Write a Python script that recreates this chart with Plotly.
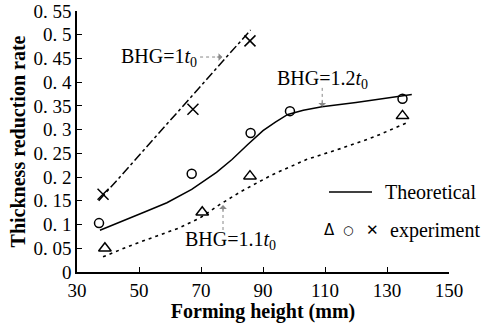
import plotly.graph_objects as go

# Theoretical curves
th1_x = [37, 86]
th1_y = [0.15, 0.51]
th12_x = [37.4, 45, 52, 59, 67, 75, 80, 85, 90, 94, 98, 103, 109, 120, 131, 138]
th12_y = [0.088, 0.109, 0.127, 0.146, 0.174, 0.21, 0.237, 0.268, 0.298, 0.316, 0.332, 0.341, 0.348, 0.357, 0.367, 0.374]
th11_x = [38.4, 47, 55.8, 63, 69.7, 76, 83, 93, 104, 115, 126, 137]
th11_y = [0.032, 0.055, 0.076, 0.093, 0.114, 0.142, 0.17, 0.205, 0.237, 0.26, 0.285, 0.316]

# Experiments
cross_x = [38.4, 67.4, 85.8]
cross_y = [0.164, 0.343, 0.487]
circ_x = [37.1, 67, 86, 98.7, 135]
circ_y = [0.103, 0.207, 0.293, 0.339, 0.365]
tri_x = [39, 70.4, 85.8, 135]
tri_y = [0.05, 0.126, 0.202, 0.329]

x_ticks = [30, 50, 70, 90, 110, 130, 150]
y_ticks = [0, 0.05, 0.1, 0.15, 0.2, 0.25, 0.3, 0.35, 0.4, 0.45, 0.5, 0.55]
y_labels = ["0", "0.\u00a005", "0.\u00a01", "0.\u00a015", "0.\u00a02", "0.\u00a025", "0.\u00a03",
            "0.\u00a035", "0.\u00a04", "0.\u00a045", "0.\u00a05", "0.\u00a055"]

FONT = "Liberation Serif, Times New Roman, serif"
L, R, T, B = 77, 35, 11, 51
PW, PH = 484 - L - R, 323 - T - B

def px(xp):
    return (xp - L) / PW

def py(yp):
    return (323 - B - yp) / PH

fig = go.Figure()
fig.add_trace(go.Scatter(x=th1_x, y=th1_y, mode="lines", line=dict(color="black", width=1.5, dash="dashdot")))
fig.add_trace(go.Scatter(x=th12_x, y=th12_y, mode="lines", line=dict(color="black", width=1.5)))
fig.add_trace(go.Scatter(x=th11_x, y=th11_y, mode="lines", line=dict(color="black", width=1.6, dash="3px,4px")))
fig.add_trace(go.Scatter(x=cross_x, y=cross_y, mode="markers",
                         marker=dict(symbol="x-thin-open", size=11, color="black", line=dict(color="black", width=1.5))))
fig.add_trace(go.Scatter(x=circ_x, y=circ_y, mode="markers",
                         marker=dict(symbol="circle-open", size=9, color="black", line=dict(color="black", width=1.5))))
fig.add_trace(go.Scatter(x=tri_x, y=tri_y, mode="markers",
                         marker=dict(symbol="triangle-up-open", size=11, color="black", line=dict(color="black", width=1.5))))

# Legend line
fig.add_shape(type="line", xref="paper", yref="paper", x0=px(329), x1=px(372),
              y0=py(192), y1=py(192), line=dict(color="black", width=1.5))

# dotted arrow shafts
GRAY = "#888"
fig.add_shape(type="line", x0=69.7, x1=76.0, y0=0.453, y1=0.453, line=dict(color=GRAY, width=1, dash="dot"))
fig.add_shape(type="line", x0=109.1, x1=109.1, y0=0.388, y1=0.355, line=dict(color=GRAY, width=1, dash="dot"))
fig.add_shape(type="line", x0=77.1, x1=77.1, y0=0.0885, y1=0.133, line=dict(color=GRAY, width=1, dash="dot"))

TF = dict(family=FONT, size=20, color="black")
ann = []
ann.append(dict(xref="paper", yref="paper", x=px(383), y=py(192), text="Theoretical",
                showarrow=False, xanchor="left", yanchor="middle", font=TF))
ann.append(dict(xref="paper", yref="paper", x=px(329), y=py(230), text="\u0394",
                showarrow=False, xanchor="center", yanchor="middle",
                font=dict(family="DejaVu Sans", size=15, color="black")))
ann.append(dict(xref="paper", yref="paper", x=px(348), y=py(230), text="\u25CB",
                showarrow=False, xanchor="center", yanchor="middle",
                font=dict(family="DejaVu Sans", size=12, color="black")))
ann.append(dict(xref="paper", yref="paper", x=px(372), y=py(230), text="\u2715",
                showarrow=False, xanchor="center", yanchor="middle",
                font=dict(family="DejaVu Sans", size=15, color="black")))
ann.append(dict(xref="paper", yref="paper", x=px(388), y=py(230), text="experiment",
                showarrow=False, xanchor="left", yanchor="middle", font=TF))
# arrowheads
ann.append(dict(x=76.9, y=0.453, ax=-7, ay=0, text="", showarrow=True, arrowhead=1, arrowsize=1.3,
                arrowwidth=1, arrowcolor=GRAY))
ann.append(dict(x=109.1, y=0.348, ax=0, ay=-7, text="", showarrow=True, arrowhead=1, arrowsize=1.3,
                arrowwidth=1, arrowcolor=GRAY))
ann.append(dict(x=77.1, y=0.141, ax=0, ay=7, text="", showarrow=True, arrowhead=1, arrowsize=1.3,
                arrowwidth=1, arrowcolor=GRAY))
# labels
ann.append(dict(x=69.5, y=0.453, text="BHG=1<i>t</i><sub>0</sub>", showarrow=False,
                xanchor="right", yanchor="middle", font=TF))
ann.append(dict(x=109.1, y=0.405, text="BHG=1.2<i>t</i><sub>0</sub>", showarrow=False,
                xanchor="center", yanchor="middle", font=TF))
ann.append(dict(x=79.4, y=0.0674, text="BHG=1.1<i>t</i><sub>0</sub>", showarrow=False,
                xanchor="center", yanchor="middle", font=TF))

fig.update_layout(
    width=484, height=323,
    margin=dict(l=L, r=R, t=T, b=B, autoexpand=False),
    paper_bgcolor="white", plot_bgcolor="white",
    showlegend=False,
    font=dict(family=FONT, size=16, color="black"),
    annotations=ann,
    xaxis=dict(range=[30, 150], tickvals=x_ticks, ticks="inside", ticklen=5, tickwidth=1.2, tickcolor="black",
               showline=True, linecolor="black", linewidth=1.5, showgrid=False, zeroline=False,
               automargin=False,
               title=dict(text="<b>Forming height (mm)</b>", font=dict(family=FONT, size=20), standoff=0),
               tickfont=dict(family=FONT, size=19)),
    yaxis=dict(range=[0, 0.55], tickvals=y_ticks, ticktext=y_labels, ticks="inside", ticklen=5, tickwidth=1.2,
               tickcolor="black", automargin=False,
               showline=True, linecolor="black", linewidth=1.5, showgrid=False, zeroline=False,
               title=dict(text="<b>Thickness reduction rate</b>", font=dict(family=FONT, size=20), standoff=2),
               tickfont=dict(family=FONT, size=19)),
)
fig.write_html("out.html", config={"displayModeBar": False},
               post_script="document.body.style.margin='0';document.body.style.overflow='hidden';")
